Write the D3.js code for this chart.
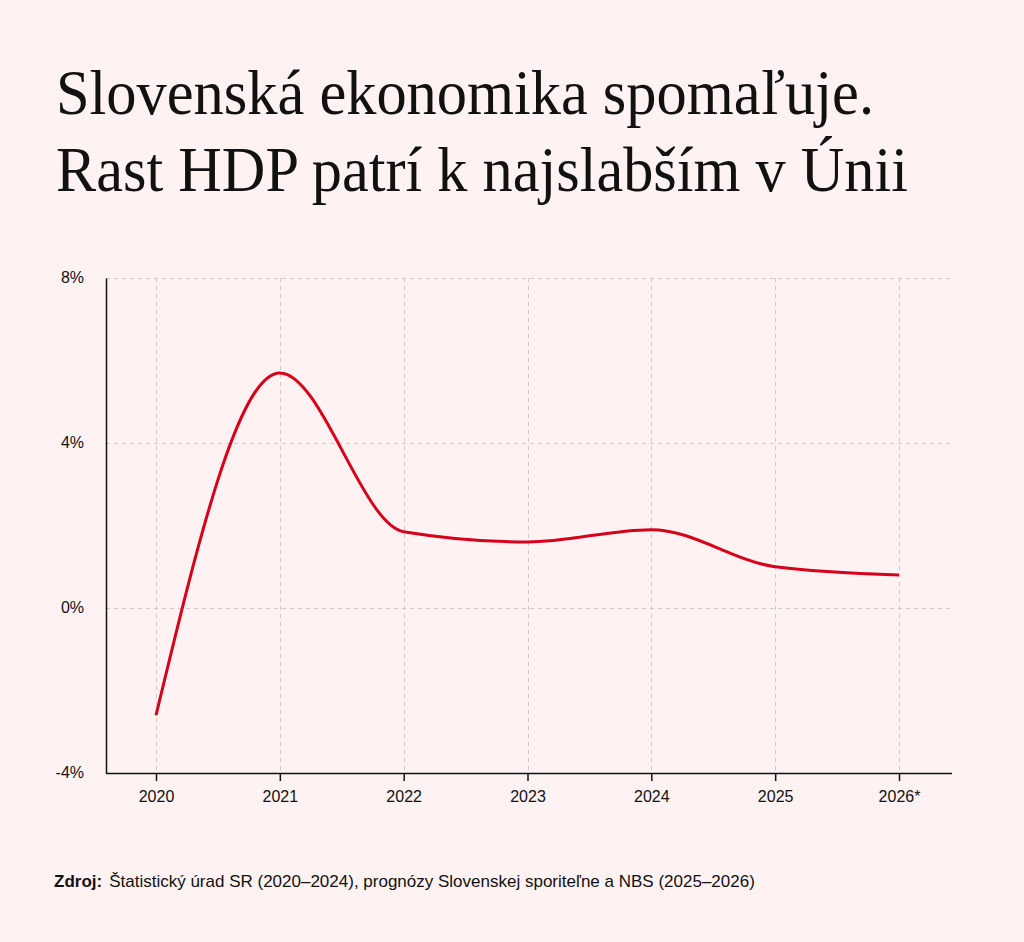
<!DOCTYPE html>
<html>
<head>
<meta charset="utf-8">
<script src="https://cdn.jsdelivr.net/npm/d3@7"></script>
<style>
  html, body { margin: 0; padding: 0; background: #fef2f2; }
  svg { display: block; }
</style>
</head>
<body>
<div id="chart"></div>
<script>
const titleLines = ["Slovenská ekonomika spomaľuje.", "Rast HDP patrí k najslabším v Únii"];
const years = [2020, 2021, 2022, 2023, 2024, 2025, 2026];
const yearLabels = ["2020", "2021", "2022", "2023", "2024", "2025", "2026*"];
const growth = [-2.6, 5.7, 1.85, 1.6, 1.9, 1.0, 0.8];
const yTicks = [-4, 0, 4, 8];
const sourceLabel = "Zdroj:";
const sourceText = "Štatistický úrad SR (2020–2024), prognózy Slovenskej sporiteľne a NBS (2025–2026)";

(function () {
const W = 1024, H = 942;
const svg = d3.select("#chart").append("svg").attr("width", W).attr("height", H);
svg.append("rect").attr("width", W).attr("height", H).attr("fill", "#fef2f2");

// title
const titleBase = [114, 191];
const titleLen = [818, 852];
titleLines.forEach((t, i) => {
  svg.append("text")
    .attr("x", 56).attr("y", titleBase[i])
    .attr("font-family", "'Liberation Serif', 'Times New Roman', serif")
    .attr("font-size", 63)
    .attr("fill", "#111")
    .attr("textLength", titleLen[i])
    .attr("lengthAdjust", "spacingAndGlyphs")
    .text(t);
});

const pL = 106, pR = 952, pT = 278, pB = 773;
const x = d3.scaleLinear().domain([2020, 2026]).range([156, 899]);
const y = d3.scaleLinear().domain([-4, 8]).range([pB, pT]);

// grid
const grid = svg.append("g").attr("stroke", "#cfc8c8").attr("stroke-width", 1).attr("stroke-dasharray", "4,4");
grid.selectAll(".h").data(yTicks.filter(d => d !== -4)).join("line")
  .attr("x1", pL).attr("x2", pR)
  .attr("y1", d => Math.round(y(d)) + 0.5).attr("y2", d => Math.round(y(d)) + 0.5);
grid.selectAll(".v").data(years).join("line")
  .attr("y1", pT).attr("y2", pB)
  .attr("x1", d => Math.round(x(d)) + 0.5).attr("x2", d => Math.round(x(d)) + 0.5);

// axes
const xAxis = d3.axisBottom(x).tickValues(years).tickFormat((d, i) => yearLabels[i]).tickSize(8).tickSizeOuter(0).tickPadding(10);
const gx = svg.append("g").attr("transform", `translate(0,${pB})`).call(xAxis);
gx.select(".domain").attr("d", `M${pL},0.5H${pR}`).attr("stroke", "#111").attr("stroke-width", 1.5);
gx.selectAll(".tick line").attr("stroke", "#111").attr("stroke-width", 1.5);
gx.selectAll(".tick text").attr("font-family", "'Liberation Sans', Arial, sans-serif").attr("font-size", 16).attr("fill", "#111");

const yAxis = d3.axisLeft(y).tickValues(yTicks).tickFormat(d => d + "%").tickSize(0).tickPadding(22);
const gy = svg.append("g").attr("transform", `translate(${pL},0)`).call(yAxis);
gy.select(".domain").attr("stroke", "#111").attr("stroke-width", 1.5);
gy.selectAll(".tick text").attr("font-family", "'Liberation Sans', Arial, sans-serif").attr("font-size", 16).attr("fill", "#111").attr("dy", "0.25em");

// line
const line = d3.line().x((d, i) => x(years[i])).y(d => y(d)).curve(d3.curveMonotoneX);
svg.append("path").datum(growth).attr("d", line)
  .attr("fill", "none").attr("stroke", "#d7001a").attr("stroke-width", 3).attr("stroke-linejoin", "round");

// source
const src = svg.append("text").attr("x", 54).attr("y", 887)
  .attr("font-family", "'Liberation Sans', Arial, sans-serif").attr("font-size", 17).attr("fill", "#111");
src.append("tspan").attr("font-weight", "bold").text(sourceLabel);
src.append("tspan").attr("dx", 7).text(sourceText);
})();
</script>
</body>
</html>
